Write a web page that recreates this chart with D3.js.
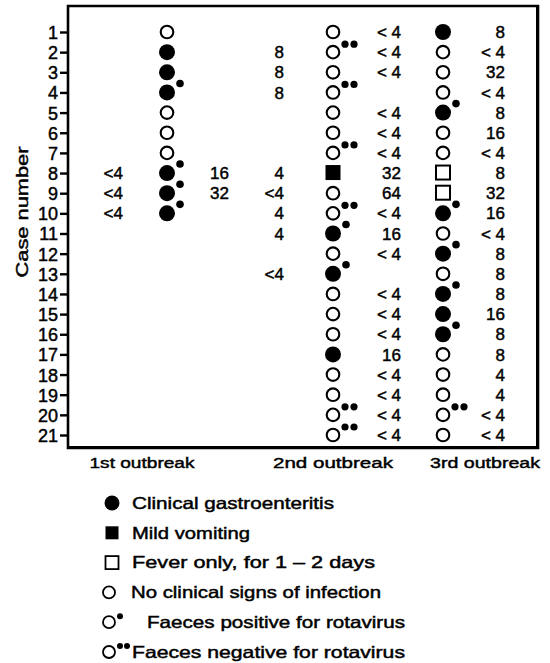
<!DOCTYPE html>
<html><head><meta charset="utf-8">
<script src="https://cdn.jsdelivr.net/npm/d3@7"></script>
</head><body style="margin:0;position:relative">
<svg id="c" width="550" height="663" style="display:block"></svg>
<script>
// ---------- DATA ----------
const cases = [1,2,3,4,5,6,7,8,9,10,11,12,13,14,15,16,17,18,19,20,21];
const outbreaks = ["1st outbreak","2nd outbreak","3rd outbreak"];
// symbol codes: F = clinical gastroenteritis, V = mild vomiting, S = fever only, O = no clinical signs, "" = none
const symbols1 = ["O","F","F","F","O","O","O","F","F","F","","","","","","","","","","",""];
const symbols2 = ["O","O","O","O","O","O","O","V","O","O","F","O","F","O","O","O","F","O","O","O","O"];
const symbols3 = ["F","O","O","O","F","O","O","S","S","F","O","F","O","F","F","F","O","O","O","O","O"];
// faeces: "+" positive for rotavirus, "-" negative for rotavirus, "" not tested
const faeces1 = ["","","","+","","","","+","+","+","","","","","","","","","","",""];
const faeces2 = ["","-","","-","","","-","","","-","+","","+","","","","","","","-","-"];
const faeces3 = ["","","","","+","","","","","+","","+","","+","","+","","","","-",""];
// titres
const titre1Before = ["","","","","","","","<4","<4","<4","","","","","","","","","","",""];
const titre1After  = ["","","","","","","","16","32","","","","","","","","","","","",""];
const titre2Before = ["","8","8","8","","","","4","<4","4","4","","<4","","","","","","","",""];
const titre2After  = ["< 4","< 4","< 4","","< 4","< 4","< 4","32","64","< 4","16","< 4","","< 4","< 4","< 4","16","< 4","< 4","< 4","< 4"];
const titre3After  = ["8","< 4","32","< 4","8","16","< 4","8","32","16","< 4","8","8","8","16","8","8","4","4","< 4","< 4"];
const legendLabels = ["Clinical gastroenteritis","Mild vomiting","Fever only, for 1 \u2013 2 days","No clinical signs of infection","Faeces positive for rotavirus","Faeces negative for rotavirus"];
const legendSymbols = ["F","V","S","O","O","O"];
const legendFaeces = ["","","","","+","-"];

// ---------- LAYOUT ----------
const svg = d3.select("#c");
const FONT = "Liberation Sans, Arial, sans-serif";
const box = {l:68, r:538, t:6, b:448};
const y = d3.scaleLinear().domain([1,21]).range([32,435]);
const xSym = d3.scaleOrdinal().domain(outbreaks).range([167,333,443]);
const titreCols = ["b1","a1","b2","a2","a3"];
const xTitre = d3.scaleOrdinal().domain(titreCols).range([123,229,284,401,505]);
const xLabel = d3.scaleOrdinal().domain(outbreaks).range([142,333,485]);
const labelW = [105,120,110];

function txt(sel){ return sel.attr("font-family",FONT).attr("fill","#000").attr("stroke","#000").attr("stroke-width",0.45); }

// frame: svg outline plus an html border overlay
const th = 2.6;
svg.append("path").attr("d",`M${box.l},${box.t}H${box.r}V${box.b}H${box.l}Z`)
  .attr("fill","none").attr("stroke","#000").attr("stroke-width",th);
d3.select("body").append("div")
  .style("position","absolute").style("left",(box.l-th/2)+"px").style("top",(box.t-th/2)+"px")
  .style("width",(box.r-box.l-th)+"px").style("height",(box.b-box.t-th)+"px")
  .style("border",th+"px solid #000").style("pointer-events","none");

// y axis
const yAxis = d3.axisLeft(y).tickValues(cases).tickSize(8).tickPadding(2);
const ga = svg.append("g").attr("transform",`translate(${box.l},0)`).call(yAxis);
ga.select(".domain").remove();
ga.selectAll(".tick line").attr("stroke","#000").attr("stroke-width",2.4);
txt(ga.selectAll(".tick text")).attr("font-size",18).attr("dy","0.36em");

txt(svg.append("text")).attr("transform","translate(22,212) rotate(-90)")
  .attr("text-anchor","middle").attr("dy","0.35em").attr("font-size",17)
  .attr("textLength",131).attr("lengthAdjust","spacingAndGlyphs")
  .text("Case number");

// x labels
outbreaks.forEach((o,i)=>{
  txt(svg.append("text")).attr("x",xLabel(o)).attr("y",463).attr("dy","0.35em")
    .attr("text-anchor","middle").attr("font-size",15.5)
    .attr("textLength",labelW[i]).attr("lengthAdjust","spacingAndGlyphs")
    .text(o);
});

// symbol drawing
function drawSymbol(g, cx, cy, s, f){
  if(s==="F"){
    g.append("circle").attr("cx",cx).attr("cy",cy).attr("r",8).attr("fill","#000");
  } else if(s==="V"){
    g.append("rect").attr("x",cx-7.5).attr("y",cy-8).attr("width",15).attr("height",15).attr("fill","#000");
  } else if(s==="S"){
    g.append("rect").attr("x",cx-7).attr("y",cy-7.5).attr("width",14).attr("height",14)
      .attr("fill","none").attr("stroke","#000").attr("stroke-width",2);
  } else if(s==="O"){
    g.append("circle").attr("cx",cx).attr("cy",cy).attr("r",6.3)
      .attr("fill","none").attr("stroke","#000").attr("stroke-width",2.1);
  }
  if(f==="+"){
    g.append("circle").attr("cx",cx+13).attr("cy",cy-9).attr("r",3.8).attr("fill","#000");
  } else if(f==="-"){
    g.append("circle").attr("cx",cx+12).attr("cy",cy-8).attr("r",3.6).attr("fill","#000");
    g.append("circle").attr("cx",cx+21).attr("cy",cy-8).attr("r",3.6).attr("fill","#000");
  }
}

const symSets = [[symbols1,faeces1],[symbols2,faeces2],[symbols3,faeces3]];
const gm = svg.append("g");
outbreaks.forEach((o,i)=>{
  const [ss,ff] = symSets[i];
  cases.forEach((c,k)=>{ drawSymbol(gm, xSym(o), y(c), ss[k], ff[k]); });
});

// titres
const titreSets = [titre1Before,titre1After,titre2Before,titre2After,titre3After];
titreCols.forEach((col,i)=>{
  txt(svg.append("g").selectAll("text").data(cases.filter((c,k)=>titreSets[i][k]!==""))
    .join("text")).attr("x",xTitre(col)).attr("y",c=>y(c)).attr("dy","0.36em")
    .attr("text-anchor","end").attr("font-size",17)
    .text(c=>titreSets[i][c-1]);
});

// legend
const legY = d3.scalePoint().domain(legendLabels).range([503,652]);
const legW = [202,118,243,250,258,273];
const legX = [132,132,132,131,147,132];
const gl = svg.append("g");
legendLabels.forEach((lab,i)=>{
  const cy = legY(lab);
  const sx = (legendSymbols[i]==="O") ? 109 : 112;
  if(legendSymbols[i]==="F"){
    gl.append("circle").attr("cx",sx).attr("cy",cy).attr("r",7.5).attr("fill","#000");
  } else if(legendSymbols[i]==="V"){
    gl.append("rect").attr("x",sx-6.5).attr("y",cy-6.5).attr("width",13).attr("height",13).attr("fill","#000");
  } else if(legendSymbols[i]==="S"){
    gl.append("rect").attr("x",sx-6.5).attr("y",cy-6.5).attr("width",13).attr("height",13)
      .attr("fill","none").attr("stroke","#000").attr("stroke-width",1.8);
  } else {
    gl.append("circle").attr("cx",sx).attr("cy",cy).attr("r",6).attr("fill","none")
      .attr("stroke","#000").attr("stroke-width",1.8);
  }
  if(legendFaeces[i]==="+"){
    gl.append("circle").attr("cx",sx+11).attr("cy",cy-6).attr("r",3).attr("fill","#000");
  } else if(legendFaeces[i]==="-"){
    gl.append("circle").attr("cx",sx+11).attr("cy",cy-6).attr("r",3).attr("fill","#000");
    gl.append("circle").attr("cx",sx+18).attr("cy",cy-6).attr("r",3).attr("fill","#000");
  }
  txt(gl.append("text")).attr("x",legX[i]).attr("y",cy).attr("dy","0.35em")
    .attr("font-size",16.5).attr("textLength",legW[i]).attr("lengthAdjust","spacingAndGlyphs")
    .text(lab);
});
</script>
</body></html>
